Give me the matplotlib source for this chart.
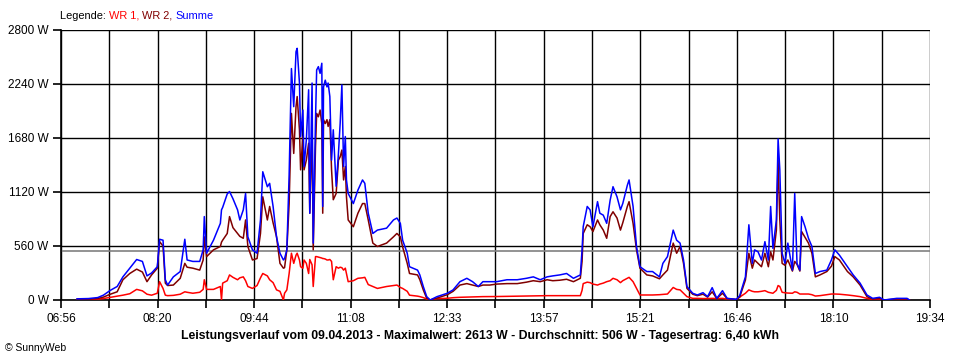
import matplotlib
matplotlib.use("Agg")
import matplotlib.pyplot as plt

# time in minutes since midnight, power in W
times = [
    430, 440, 448, 453, 459, 465, 470, 476, 482, 487, 491, 495, 500, 502, 505,
    507, 509, 514, 520, 524, 526, 531, 537, 540, 541, 543, 549, 555, 556, 557,
    561, 563, 566, 570, 572, 575, 577, 579, 583, 587, 590, 592, 596, 598, 601,
    604, 607, 610, 611, 613, 615, 617, 619, 621, 622, 624, 625, 627, 628, 630,
    632, 633, 635, 636, 638, 639, 640.5, 642, 643.5, 644.3, 645, 646.5, 648, 649, 650.5,
    652, 653.5, 656, 658, 659.5, 661, 662.5, 664, 665, 666.5, 671, 675, 679, 681, 684,
    688, 692, 700, 706, 709, 712, 714, 718, 720, 727, 729, 732, 735, 738, 744,
    753, 758, 764, 770, 775, 780, 784, 790, 796, 805, 814, 822, 828, 834, 840,
    845, 851, 857, 863, 869, 870.5, 871.5, 875, 877.5, 880, 884, 886, 889, 892, 895,
    897.5, 901, 904, 906, 910, 911.5, 915, 918, 921, 927, 932, 938, 941, 945, 950,
    953, 956, 959, 962, 967, 971, 976, 980, 984, 988, 993, 997, 1005, 1008, 1013,
    1016, 1019, 1021, 1024, 1027, 1030, 1033, 1035, 1037, 1040, 1041.5, 1043, 1045, 1047.5, 1050,
    1054, 1056, 1058, 1060.5, 1062, 1065, 1068, 1071, 1074, 1078, 1084, 1088, 1091, 1095, 1102,
    1107, 1113, 1119, 1124, 1130, 1134, 1145, 1154, 1156,
]
summe = [
    12, 15, 25, 50, 100, 140, 240, 330, 420, 400, 250, 280, 345, 630, 620,
    210, 155, 240, 295, 630, 415, 400, 400, 520, 865, 485, 620, 795, 935, 960,
    1100, 1125, 1050, 935, 830, 935, 1105, 655, 520, 485, 830, 1330, 1175, 1210, 970,
    655, 485, 415, 430, 520, 1300, 2400, 2005, 2575, 2610, 2250, 1695, 1970, 1385, 1660,
    2180, 900, 2250, 590, 1870, 2385, 2420, 2350, 2455, 970, 2210, 2280, 2210, 2250, 2110,
    1450, 1765, 1180, 1520, 1830, 2230, 1385, 1695, 1245, 1105, 1000, 1140, 1245, 1210, 900,
    690, 725, 745, 830, 850, 795, 620, 485, 345, 310, 260, 140, 35, 0, 35,
    70, 105, 190, 225, 190, 140, 190, 190, 190, 210, 210, 225, 240, 210, 240,
    250, 260, 275, 225, 260, 520, 760, 970, 935, 760, 1020, 900, 880, 795, 1035,
    1175, 1070, 935, 1000, 1190, 1245, 970, 555, 345, 295, 295, 240, 380, 450, 725,
    620, 590, 415, 140, 70, 52, 76, 35, 128, 17, 97, 17, 7, 45, 240,
    780, 380, 520, 500, 415, 605, 415, 970, 535, 830, 1670, 1350, 485, 380, 590,
    310, 1105, 380, 310, 865, 760, 640, 555, 275, 295, 310, 415, 520, 465, 345,
    260, 175, 52, 17, 28, 0, 17, 17, 0,
]
wr2 = [
    6, 8, 15, 30, 60, 85, 210, 275, 320, 290, 190, 260, 330, 605, 560,
    175, 150, 155, 225, 380, 340, 330, 310, 415, 655, 450, 520, 555, 600, 620,
    690, 865, 750, 690, 660, 640, 830, 555, 415, 430, 690, 1070, 830, 970, 800,
    655, 380, 330, 335, 520, 1000, 1935, 1520, 2005, 2110, 1765, 1350, 1695, 1350, 1450,
    1625, 900, 1765, 520, 1590, 1935, 1900, 1970, 1830, 900, 1870, 1830, 1870, 1800, 1870,
    1350, 1040, 1105, 1450, 1485, 1555, 1245, 1385, 1070, 830, 760, 900, 1000, 1000, 830,
    590, 555, 590, 655, 690, 655, 550, 380, 275, 260, 210, 105, 17, 0, 20,
    55, 90, 155, 170, 155, 140, 155, 155, 165, 170, 170, 185, 200, 190, 210,
    200, 205, 215, 190, 225, 400, 690, 780, 760, 710, 830, 780, 725, 640, 865,
    915, 850, 725, 800, 970, 1020, 795, 520, 330, 260, 250, 220, 260, 310, 590,
    485, 555, 380, 120, 60, 45, 60, 30, 85, 15, 70, 15, 5, 30, 207,
    485, 330, 415, 380, 345, 485, 345, 500, 415, 725, 1450, 830, 380, 360, 415,
    300, 400, 370, 300, 710, 650, 590, 485, 240, 260, 295, 350, 450, 415, 295,
    240, 155, 35, 10, 15, 0, 10, 10, 0,
]
wr1 = [
    5, 7, 8, 15, 28, 40, 50, 65, 110, 95, 60, 50, 70, 190, 120,
    50, 45, 48, 60, 85, 80, 70, 80, 110, 210, 110, 110, 140, 0, 175,
    200, 260, 235, 210, 230, 240, 200, 140, 120, 150, 230, 275, 250, 210, 180,
    105, 90, 0, 70, 105, 275, 485, 380, 465, 485, 415, 345, 330, 415, 380,
    275, 420, 365, 140, 450, 450, 445, 440, 435, 430, 430, 425, 415, 415, 420,
    400, 210, 345, 330, 340, 335, 310, 330, 275, 190, 200, 225, 230, 235, 160,
    140, 120, 140, 150, 155, 130, 120, 90, 50, 40, 35, 25, 10, 0, 14,
    18, 24, 28, 30, 32, 33, 35, 35, 36, 38, 41, 42, 43, 44, 45,
    45, 45, 45, 45, 45, 100, 170, 185, 180, 165, 155, 165, 175, 190, 200,
    225, 210, 180, 200, 225, 235, 190, 120, 52, 52, 52, 55, 58, 62, 130,
    110, 105, 70, 35, 17, 17, 15, 15, 17, 15, 17, 10, 5, 30, 70,
    105, 90, 85, 85, 90, 97, 80, 75, 70, 100, 150, 140, 80, 75, 72,
    70, 85, 80, 62, 62, 62, 62, 55, 41, 45, 55, 62, 62, 60, 52,
    45, 35, 17, 7, 5, 0, 5, 5, 0,
]

average = 506
y_ticks = [0, 560, 1120, 1680, 2240, 2800]
y_labels = ["0 W", "560 W", "1120 W", "1680 W", "2240 W", "2800 W"]
x_start, x_end = 416, 1174
x_labels = ["06:56", "08:20", "09:44", "11:08", "12:33",
            "13:57", "15:21", "16:46", "18:10", "19:34"]

RED = "#ff0000"
DARKRED = "#800000"
BLUE = "#0000ff"
FONT = "Liberation Sans"

fig = plt.figure(figsize=(9.6, 3.6), dpi=100)
ax = fig.add_axes([61 / 960, 60 / 360, 869 / 960, 270 / 360])

# 18 grid intervals, a label on every second line
n_grid = 18
step = (x_end - x_start) / n_grid
x_grid = [x_start + i * step for i in range(n_grid + 1)]
x_ticklabels = [x_labels[i // 2] if i % 2 == 0 else "" for i in range(n_grid + 1)]

ax.plot(times, wr1, color=RED, lw=1.1, zorder=3)
ax.plot(times, wr2, color=DARKRED, lw=1.1, zorder=4)
ax.plot(times, summe, color=BLUE, lw=1.1, zorder=5)
ax.axhline(average, color="#808080", lw=1.2, zorder=2)

ax.set_xlim(x_start, x_end)
ax.set_ylim(0, 2800)
ax.set_xticks(x_grid)
ax.set_xticklabels(x_ticklabels)
ax.set_yticks(y_ticks)
ax.set_yticklabels(y_labels)
ax.grid(True, color="black", lw=1.0, zorder=1)
ax.set_axisbelow(True)
for side in ("top", "right"):
    ax.spines[side].set_visible(False)
for side in ("left", "bottom"):
    ax.spines[side].set_linewidth(1.2)
ax.tick_params(axis="both", length=6, width=1.2, color="black",
               labelsize=8.5, pad=3)
for lab in ax.get_xticklabels() + ax.get_yticklabels():
    lab.set_fontfamily(FONT)

# coloured legend line
t = fig.text(60 / 960, 1 - 21 / 360, "Legende: ", color="black",
             fontsize=7.9, family=FONT, va="bottom")
for s, c in [("WR 1, ", RED), ("WR 2, ", DARKRED), ("Summe", BLUE)]:
    t = ax.annotate(s, xy=(1, 0), xycoords=t, va="bottom", color=c,
                    fontsize=7.9, family=FONT, annotation_clip=False)

fig.text(0.5, 1 - 336 / 360,
         "Leistungsverlauf vom 09.04.2013 - Maximalwert: 2613 W - "
         "Durchschnitt: 506 W - Tagesertrag: 6,40 kWh",
         ha="center", va="center", fontsize=8.8, fontweight="bold", family=FONT)
fig.text(5 / 960, 1 - 348 / 360, "\u00a9 SunnyWeb", ha="left", va="center",
         fontsize=7.5, family=FONT)

fig.savefig("out.png", dpi=100)
plt.close(fig)
